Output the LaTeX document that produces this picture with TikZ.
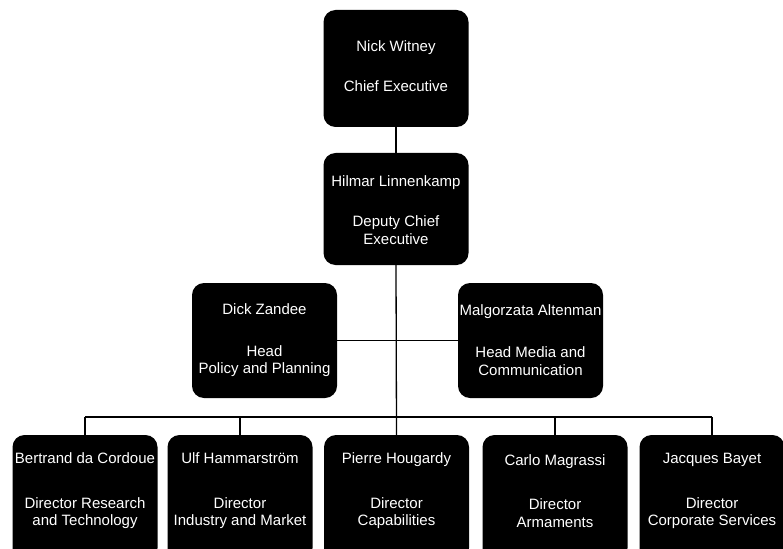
\documentclass[tikz,border=0pt]{standalone}
\usepackage{fontspec}
\setmainfont{Liberation Sans}
\begin{document}
\begin{tikzpicture}[x=1pt,y=-1pt,
  box/.style={fill=black, rounded corners=12pt, minimum width=145pt, inner sep=0pt},
  lbl/.style={text=white, align=center, font=\fontsize{15}{17.5}\selectfont},
  link/.style={draw=black, line width=1.3pt}]
\useasboundingbox (0,0) rectangle (783,548);
\clip (0,0) rectangle (783,548);
% boxes
\node[box, minimum height=117pt] (ce) at (396,68.5) {};
\node[lbl] (ce-t) at (396,66) {Nick Witney\\[22.5pt]Chief Executive};
\node[box, minimum height=112pt] (dce) at (396,209) {};
\node[lbl] (dce-t) at (396,210) {Hilmar Linnenkamp\\[22.5pt]Deputy Chief\\Executive};
\node[box, minimum height=115pt] (hz) at (264.5,340.5) {};
\node[lbl] (hz-t) at (264.5,340) {Dick Zandee\\[24.5pt]Head\\Policy and Planning};
\node[box, minimum height=115pt] (hm) at (530.5,340.5) {};
\node[lbl] (hm-t) at (530.5,340) {Malgorzata Altenman\\[24.5pt]Head Media and\\Communication};
\node[box, minimum height=125pt] (b1) at (85,497.5) {};
\node[lbl] (b1-t) at (85,491) {Bertrand da Cordoue\\[27pt]Director Research\\and Technology};
\node[box, minimum height=125pt] (b2) at (240,497.5) {};
\node[lbl] (b2-t) at (240,491) {Ulf Hammarstr\"om\\[27pt]Director\\Industry and Market};
\node[box, minimum height=125pt] (b3) at (396.5,497.5) {};
\node[lbl] (b3-t) at (396.5,491) {Pierre Hougardy\\[27pt]Director\\Capabilities};
\node[box, minimum height=125pt] (b4) at (555,497.5) {};
\node[lbl] (b4-t) at (555,491) {Carlo Magrassi\\[27pt]Director\\Armaments};
\node[box, minimum height=125pt] (b5) at (712,497.5) {};
\node[lbl] (b5-t) at (712,491) {Jacques Bayet\\[27pt]Director\\Corporate Services};
% connectors
\coordinate (bus) at (396,417);
\draw[link] (ce.south) -- (dce.north);
\draw[link] (dce.south) -- (b3.north);
\draw[link] (hz.east) -- (hm.west);
\draw[link] (b1.north |- bus) -- (b5.north |- bus);
\draw[link] (b1.north |- bus) -- (b1.north);
\draw[link] (b2.north |- bus) -- (b2.north);
\draw[link] (b4.north |- bus) -- (b4.north);
\draw[link] (b5.north |- bus) -- (b5.north);
\end{tikzpicture}
\end{document}
